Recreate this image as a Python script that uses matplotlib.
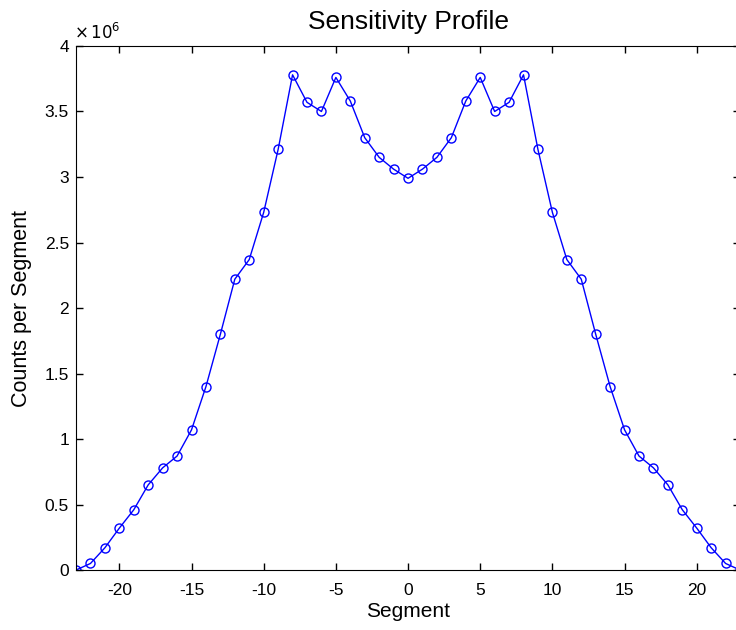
import matplotlib
matplotlib.use('Agg')
import matplotlib.pyplot as plt
from matplotlib.ticker import FuncFormatter

plt.rcParams['font.family'] = ['Liberation Sans', 'DejaVu Sans']
plt.rcParams['axes.unicode_minus'] = False

# -------------------------------------------------
# 数据 (counts per segment, in units of 1e6)
# -------------------------------------------------
segments = list(range(-23, 24))
half = [0.0, 0.05, 0.17, 0.32, 0.46, 0.65, 0.78, 0.87, 1.07, 1.40, 1.80, 2.22,
        2.37, 2.73, 3.21, 3.78, 3.57, 3.50, 3.76, 3.58, 3.30, 3.15, 3.06]
center = [2.99]
counts_millions = half + center + half[::-1]
counts = [v * 1e6 for v in counts_millions]

fig = plt.figure(figsize=(7.36, 6.3), dpi=100)
# right edge sits just past the image border, as in the original
ax = fig.add_axes([0.1033, 0.0952, 0.9022, 0.8318])

ax.plot(segments, counts, color='#0000ff', lw=1, marker='o', ms=6.5,
        mfc='none', mec='#0000ff', mew=1)

ax.set_xlim(-23, 23)
ax.set_ylim(0, 4e6)
ax.set_xticks([-20, -15, -10, -5, 0, 5, 10, 15, 20])
ax.set_yticks([i * 0.5e6 for i in range(9)])
ax.yaxis.set_major_formatter(FuncFormatter(lambda v, p: ('%g' % (v / 1e6))))
ax.tick_params(direction='in', top=True, right=True, length=5,
               labelsize=12.5, width=1, pad=5)
ax.tick_params(axis='x', pad=9)
ax.text(-0.003, 1.008, r'$\times\,10^{6}$', transform=ax.transAxes,
        fontsize=12, ha='left', va='bottom')

ax.set_title('Sensitivity Profile', fontsize=19, pad=12)
ax.set_xlabel('Segment', fontsize=15, labelpad=3)
ax.set_ylabel('Counts per Segment', fontsize=15.5, labelpad=9)

fig.savefig('out.png', dpi=100)
